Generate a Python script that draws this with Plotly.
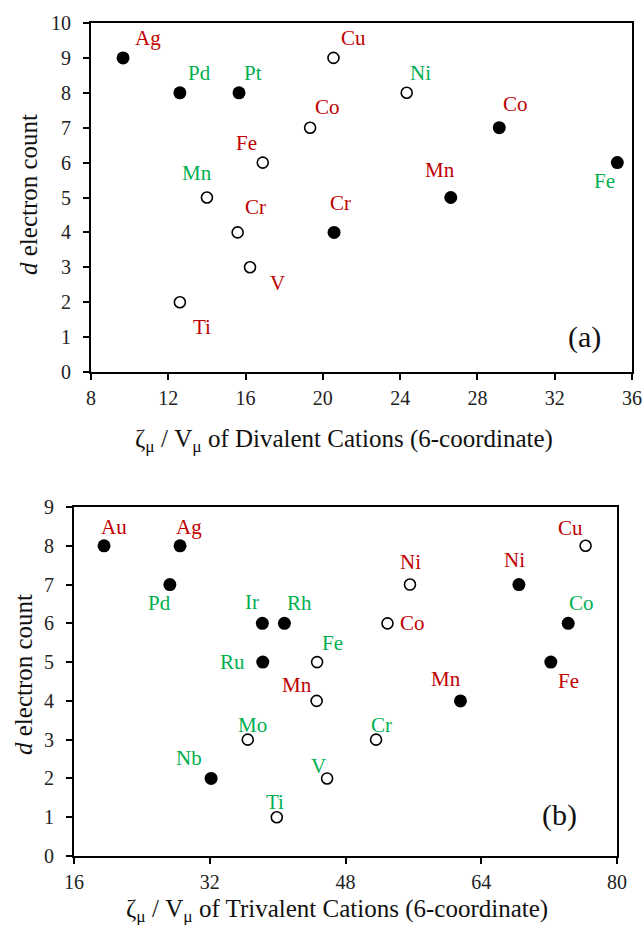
import plotly.graph_objects as go

W, H = 644, 925
RED = "#C00000"
GREEN = "#00B050"
FONT = "Liberation Serif, Times New Roman, DejaVu Serif, serif"

# ---------------- Panel (a): divalent cations ----------------
a_open_labels = ["Cu", "Ni", "Co", "Fe", "Mn", "Cr", "V", "Ti"]
a_open_x = [20.55, 24.34, 19.34, 16.89, 14.0, 15.59, 16.23, 12.6]
a_open_d = [9, 8, 7, 6, 5, 4, 3, 2]
a_open_col = ["r", "g", "r", "r", "g", "r", "r", "r"]

a_fill_labels = ["Ag", "Pd", "Pt", "Co", "Fe", "Mn", "Cr"]
a_fill_x = [9.66, 12.6, 15.66, 29.13, 35.24, 26.62, 20.58]
a_fill_d = [9, 8, 8, 7, 6, 5, 4]
a_fill_col = ["r", "g", "g", "r", "g", "r", "r"]

# ---------------- Panel (b): trivalent cations ----------------
b_open_labels = ["Cu", "Ni", "Co", "Fe", "Mn", "Mo", "Cr", "V", "Ti"]
b_open_x = [76.3, 55.6, 52.95, 44.65, 44.6, 36.48, 51.6, 45.83, 39.9]
b_open_d = [8, 7, 6, 5, 4, 3, 3, 2, 1]
b_open_col = ["r", "r", "r", "g", "r", "g", "g", "g", "g"]

b_fill_labels = ["Au", "Ag", "Pd", "Ir", "Rh", "Ru", "Nb", "Mn", "Fe", "Ni", "Co"]
b_fill_x = [19.54, 28.5, 27.3, 38.2, 40.8, 38.25, 32.16, 61.55, 72.2, 68.44, 74.25]
b_fill_d = [8, 8, 7, 6, 6, 5, 2, 4, 5, 7, 6]
b_fill_col = ["r", "r", "g", "g", "g", "g", "g", "r", "r", "r", "g"]

y_ticks_a = list(range(0, 11))
x_ticks_a = [8, 12, 16, 20, 24, 28, 32, 36]
y_ticks_b = list(range(0, 10))
x_ticks_b = [16, 32, 48, 64, 80]

# label offsets in screen pixels (dx right, dy down)
a_open_off = [(20, -20), (14, -20), (17, -21), (-16, -20), (-10, -24), (18, -25), (27, 16), (22, 25)]
a_fill_off = [(25, -20), (20, -20), (14, -20), (16, -24), (-13, 18), (-11, -27), (6, -29)]
b_open_off = [(-15, -18), (1, -23), (25, 0), (15, -19), (-20, -16), (5, -15), (5, -15), (-9, -12), (-2, -15)]
b_fill_off = [(10, -19), (9, -19), (-10, 18), (-10, -21), (15, -20), (-30, 0), (-22, -20), (-14, -22), (18, 19), (-4, -25), (13, -20)]

COLS = {"r": RED, "g": GREEN}

fig = go.Figure()

def add_panel(xa, ya, ox, od, fx, fd):
    fig.add_trace(go.Scatter(x=ox, y=od, mode="markers", xaxis=xa, yaxis=ya,
                             marker=dict(symbol="circle", size=11, color="white",
                                         line=dict(color="black", width=1.6)),
                             showlegend=False, hoverinfo="skip"))
    fig.add_trace(go.Scatter(x=fx, y=fd, mode="markers", xaxis=xa, yaxis=ya,
                             marker=dict(symbol="circle", size=13, color="black",
                                         line=dict(width=0)),
                             showlegend=False, hoverinfo="skip"))

add_panel("x", "y", a_open_x, a_open_d, a_fill_x, a_fill_d)
add_panel("x2", "y2", b_open_x, b_open_d, b_fill_x, b_fill_d)

annotations = []

def add_labels(xr, yr, labels, xs, ds, cols, offs):
    for lab, xv, dv, c, (dx, dy) in zip(labels, xs, ds, cols, offs):
        annotations.append(dict(x=xv, y=dv, xref=xr, yref=yr, text=lab, showarrow=False,
                                xanchor="center", yanchor="middle",
                                xshift=dx, yshift=-dy,
                                font=dict(family=FONT, size=21, color=COLS[c])))

add_labels("x", "y", a_open_labels, a_open_x, a_open_d, a_open_col, a_open_off)
add_labels("x", "y", a_fill_labels, a_fill_x, a_fill_d, a_fill_col, a_fill_off)
add_labels("x2", "y2", b_open_labels, b_open_x, b_open_d, b_open_col, b_open_off)
add_labels("x2", "y2", b_fill_labels, b_fill_x, b_fill_d, b_fill_col, b_fill_off)

def px(xp):
    return xp / W

def py(yp):
    return 1 - yp / H

paper_texts = [
    (584, 337, "(a)", 0, 30),
    (559, 815, "(b)", 0, 30),
    (344, 440, "ζ<sub>μ</sub> / V<sub>μ</sub> of Divalent Cations (6-coordinate)", 0, 25),
    (337, 910, "ζ<sub>μ</sub> / V<sub>μ</sub> of Trivalent Cations (6-coordinate)", 0, 25),
    (28, 195, "<i>d</i> electron count", -90, 25),
    (23, 675, "<i>d</i> electron count", -90, 25),
]
for xp_, yp_, txt, ang, fs in paper_texts:
    annotations.append(dict(x=px(xp_), y=py(yp_), xref="paper", yref="paper", text=txt,
                            showarrow=False, xanchor="center", yanchor="middle",
                            textangle=ang, font=dict(family=FONT, size=fs, color="#111")))

tick_font = dict(family=FONT, size=20, color="#222")
axis_common = dict(showgrid=False, zeroline=False, showline=True, linecolor="black",
                   linewidth=2, mirror=True, ticks="outside", ticklen=6, tickwidth=1.5,
                   tickcolor="black", tickfont=tick_font, automargin=False)

fig.update_layout(
    width=W, height=H,
    margin=dict(l=0, r=0, t=0, b=0),
    paper_bgcolor="white", plot_bgcolor="white",
    font=dict(family=FONT),
    xaxis=dict(domain=[px(91), px(632)], range=[8, 36], tickvals=x_ticks_a, anchor="y",
               ticklabelstandoff=1, **axis_common),
    yaxis=dict(domain=[py(372), py(23)], range=[0, 10], tickvals=y_ticks_a, anchor="x",
               ticklabelstandoff=8, **axis_common),
    xaxis2=dict(domain=[px(74), px(617)], range=[16, 80], tickvals=x_ticks_b, anchor="y2",
                ticklabelstandoff=1, **axis_common),
    yaxis2=dict(domain=[py(856), py(507)], range=[0, 9], tickvals=y_ticks_b, anchor="x2",
                ticklabelstandoff=8, **axis_common),
    annotations=annotations,
)

fig.write_html("out.html", config={"displayModeBar": False},
               post_script="document.body.style.margin='0';document.body.style.overflow='hidden';")
